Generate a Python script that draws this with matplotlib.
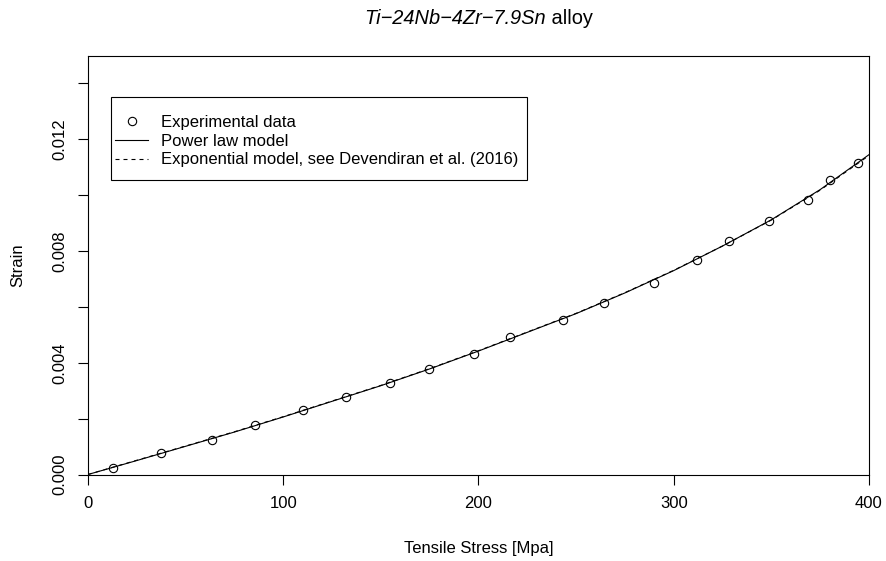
import matplotlib
matplotlib.use("Agg")
import matplotlib.pyplot as plt
from matplotlib.patches import Rectangle
from matplotlib.lines import Line2D

plt.rcParams['font.family'] = ['Liberation Sans', 'DejaVu Sans']

# Experimental data (stress in MPa, strain)
stress_exp = [12.8, 37.4, 63.5, 85.5, 110.1, 132.1, 154.7, 174.6, 197.7, 216.1,
              243.3, 264.3, 289.9, 311.9, 328.3, 348.8, 368.8, 380.0, 394.4]
strain_exp = [0.00023, 0.00077, 0.00123, 0.00177, 0.00231, 0.00277, 0.00327, 0.00377,
              0.00431, 0.00492, 0.00553, 0.00613, 0.00685, 0.00767, 0.00835, 0.00907,
              0.00982, 0.01053, 0.01114]

# Model curves
stress_curve = [0, 25, 50, 75, 100, 125, 150, 175, 200, 225, 250, 275, 300, 325, 350, 375, 400]
strain_power = [0.0, 0.00050, 0.00101, 0.00152, 0.00206, 0.00262, 0.00318, 0.00378, 0.00442,
                0.00509, 0.00576, 0.00650, 0.00730, 0.00818, 0.00912, 0.01020, 0.01145]
strain_expo = [0.0, 0.00051, 0.00102, 0.00153, 0.00207, 0.00263, 0.00319, 0.00379, 0.00443,
               0.00510, 0.00577, 0.00651, 0.00731, 0.00818, 0.00911, 0.01018, 0.01142]

x_ticks = [0, 100, 200, 300, 400]
y_ticks = [0.000, 0.002, 0.004, 0.006, 0.008, 0.010, 0.012, 0.014]
y_ticklabels = ['0.000', '', '0.004', '', '0.008', '', '0.012', '']

W, H = 887, 561
fig = plt.figure(figsize=(W / 100, H / 100), dpi=100)
L, R, T, B = 88, 869, 55.5, 474.5
ax = fig.add_axes([L / W, (H - B) / H, (R - L) / W, (B - T) / H])

ax.plot(stress_curve, strain_power, color='black', lw=0.8, zorder=3)
ax.plot(stress_curve, strain_expo, color='black', lw=0.8, dashes=(3.6, 3.6), zorder=3)
ax.plot(stress_exp, strain_exp, linestyle='none', marker='o', ms=6, mfc='none',
        mec='black', mew=0.8, zorder=4)

ax.set_xlim(0, 400)
ax.set_ylim(0, 0.015)
ax.set_xticks(x_ticks)
ax.set_xticklabels([str(v) for v in x_ticks])
ax.set_yticks(y_ticks)
ax.set_yticklabels(y_ticklabels, rotation=90, va='center')
ax.tick_params(axis='both', direction='out', length=7.2, width=0.8, labelsize=12,
               color='black', labelcolor='black')
ax.tick_params(axis='x', pad=8)
ax.tick_params(axis='y', pad=8)
for s in ax.spines.values():
    s.set_linewidth(0.8)
    s.set_color('black')

# axis titles
fig.text((L + R) / 2 / W, 1 - 549 / H, 'Tensile Stress [Mpa]', ha='center', va='center', fontsize=12)
fig.text(18 / W, 1 - ((T + B) / 2) / H, 'Strain', ha='center', va='center', rotation=90, fontsize=12)

# title: italic alloy name + plain " alloy"
t1 = fig.text(0.0, 1 - 19 / H, 'Ti\u221224Nb\u22124Zr\u22127.9Sn', ha='left', va='center',
              fontsize=14.4, style='italic')
t2 = fig.text(0.0, 1 - 19 / H, ' alloy', ha='left', va='center', fontsize=14.4)
fig.canvas.draw()
r = fig.canvas.get_renderer()
w1 = t1.get_window_extent(r).width
w2 = t2.get_window_extent(r).width
cx = (L + R) / 2
x0 = cx - (w1 + w2) / 2
t1.set_x(x0 / W)
t2.set_x((x0 + w1) / W)

# legend
handles = [
    Line2D([], [], linestyle='none', marker='o', ms=6, mfc='none', mec='black', mew=0.8),
    Line2D([], [], color='black', lw=0.8),
    Line2D([], [], color='black', lw=0.8, dashes=(3.6, 3.6)),
]
labels = ['Experimental data', 'Power law model', 'Exponential model, see Devendiran et al. (2016)']

def ax_frac(px, py):
    return ((px - L) / (R - L), (B - py) / (B - T))

leg = ax.legend(handles, labels, loc='upper left', bbox_to_anchor=ax_frac(115, 115),
                frameon=False, borderpad=0, handlelength=2.0, handletextpad=0.78,
                labelspacing=0.22, fontsize=12, borderaxespad=0)
x0f, y0f = ax_frac(111, 180)
x1f, y1f = ax_frac(527, 97)
ax.add_patch(Rectangle((x0f, y0f), x1f - x0f, y1f - y0f, transform=ax.transAxes,
                       fill=False, edgecolor='black', lw=0.8, zorder=5))

fig.savefig('out.png', dpi=100)
